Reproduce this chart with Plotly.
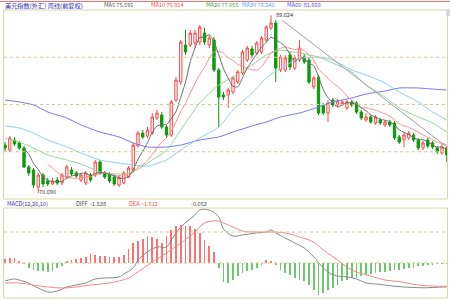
import plotly.graph_objects as go
import pandas as pd

# ---------------- data (weekly candles) ----------------
opens = [75.80, 75.27, 76.34, 76.02, 75.48, 73.46, 73.14, 71.33, 72.60, 71.97,
         71.65, 72.07, 71.75, 72.39, 73.14, 72.82, 72.07, 71.75, 72.60, 72.60,
         73.99, 72.82, 72.71, 72.39, 71.54, 71.75, 72.39, 73.14, 75.70, 77.08,
         76.76, 77.08, 78.68, 79.00, 77.72, 76.87, 80.60, 82.52, 86.46, 86.46,
         86.68, 86.78, 87.74, 86.46, 87.00, 83.80, 81.13, 81.13, 81.45, 82.52,
         83.48, 84.86, 86.04, 85.61, 85.72, 87.00, 88.28, 88.81, 83.80, 83.80,
         85.40, 84.01, 84.86, 85.18, 84.86, 81.99, 83.05, 80.07, 79.21, 80.60,
         80.07, 80.17, 79.75, 80.39, 80.28, 79.32, 78.47, 78.79, 78.15, 78.47,
         77.94, 78.26, 78.15, 76.66, 76.34, 76.55, 76.87, 76.34, 75.48, 76.34,
         76.02, 75.48, 74.95, 75.48]
highs = [76.12, 76.76, 76.66, 76.23, 75.70, 73.67, 73.35, 72.82, 72.82, 72.29,
         72.29, 72.39, 72.82, 73.67, 73.46, 73.03, 72.82, 73.03, 72.82, 74.20,
         74.20, 73.03, 72.92, 72.60, 72.60, 73.03, 73.56, 76.02, 77.30, 77.40,
         77.72, 79.21, 79.53, 79.32, 77.94, 80.60, 83.05, 87.00, 88.06, 88.06,
         88.06, 88.60, 88.28, 87.53, 87.32, 84.01, 81.45, 81.88, 83.16, 83.80,
         85.93, 86.36, 86.36, 86.89, 87.42, 88.60, 89.624, 89.13, 85.40, 85.40,
         85.72, 85.40, 87.00, 85.50, 85.08, 83.16, 83.27, 80.28, 80.60, 80.81,
         80.71, 80.60, 80.60, 80.60, 80.49, 79.53, 79.21, 79.00, 79.00, 78.68,
         78.47, 78.47, 78.36, 76.87, 77.08, 77.30, 77.08, 76.55, 76.23, 76.55,
         76.23, 75.70, 75.91, 75.70]
lows = [75.16, 75.06, 75.70, 75.27, 73.35, 72.50, 71.22, 70.69, 71.33, 71.43,
        71.54, 71.54, 71.54, 72.18, 72.50, 72.29, 71.86, 71.54, 71.86, 72.39,
        72.60, 72.18, 71.75, 71.43, 71.33, 71.65, 72.29, 72.92, 75.59, 76.44,
        76.55, 76.87, 78.47, 77.51, 76.55, 76.66, 80.39, 82.20, 85.40, 86.25,
        86.25, 86.46, 86.46, 86.14, 83.59, 77.72, 80.60, 79.75, 81.24, 82.31,
        83.27, 84.65, 85.08, 85.40, 85.50, 86.78, 88.06, 82.52, 83.59, 83.59,
        83.80, 83.80, 84.65, 84.44, 82.31, 81.77, 79.00, 79.00, 78.26, 79.85,
        79.85, 79.96, 79.53, 79.85, 79.11, 78.47, 78.26, 78.04, 77.94, 77.94,
        77.72, 77.72, 76.34, 75.91, 75.59, 76.34, 76.12, 75.27, 75.27, 75.48,
        75.38, 74.84, 74.74, 73.99]
closes = [75.48, 76.55, 75.91, 75.48, 73.46, 72.82, 71.54, 72.60, 71.65, 71.65,
          71.97, 71.75, 72.60, 73.46, 72.71, 72.50, 72.60, 72.82, 72.07, 73.99,
          72.82, 72.39, 71.97, 71.65, 72.39, 72.82, 73.35, 75.80, 77.08, 76.66,
          77.40, 78.79, 79.21, 77.72, 76.87, 80.39, 82.73, 86.78, 85.72, 87.74,
          87.74, 88.38, 86.78, 87.21, 83.80, 80.92, 80.92, 81.67, 82.95, 83.59,
          85.72, 86.14, 85.40, 86.68, 87.21, 88.38, 88.81, 84.01, 85.18, 85.08,
          84.12, 85.08, 86.14, 84.65, 82.52, 82.95, 79.21, 79.21, 80.28, 80.07,
          80.49, 80.39, 80.39, 80.07, 79.32, 78.68, 78.79, 78.26, 78.79, 78.15,
          78.26, 77.94, 76.55, 76.12, 76.87, 77.08, 76.34, 75.48, 76.02, 75.70,
          75.59, 75.06, 75.59, 74.74]

# longer moving averages at sample bars
ma_bars = [0, 3, 6, 9, 13, 16, 20, 24, 27, 30, 34, 37, 41, 45, 48, 52, 55, 58,
           62, 66, 69, 73, 76, 80, 83, 87, 90, 93]
ma20_vals = [76.55, 76.12, 75.48, 74.74, 74.20, 73.78, 72.92, 72.71, 72.92, 73.88,
             75.27, 77.40, 80.28, 82.20, 83.05, 84.33, 85.40, 85.90, 85.61, 85.18,
             84.54, 83.59, 82.20, 80.92, 79.75, 78.79, 78.15, 77.19]
ma30_vals = [77.83, 77.62, 77.08, 76.34, 75.59, 74.95, 74.20, 73.88, 73.67, 73.56,
             74.20, 75.27, 76.55, 77.72, 79.53, 81.35, 82.95, 84.01, 84.97, 85.18,
             84.86, 83.80, 83.27, 82.41, 81.45, 80.39, 79.32, 78.47]
ma60_vals = [80.60, 80.39, 80.07, 79.32, 78.68, 77.94, 77.19, 76.66, 76.02, 75.59,
             75.59, 75.80, 76.34, 76.66, 77.19, 77.83, 78.25, 78.79, 79.21, 79.85,
             80.39, 80.81, 81.24, 81.56, 81.88, 81.88, 81.77, 81.67]

# MACD(12,26,10)
diff_bars = [0, 2, 3, 5, 6, 7, 9, 11, 13, 15, 17, 19, 21, 24, 25, 27, 28, 30, 32,
             34, 35, 37, 40, 41, 43, 45, 46, 48, 50, 53, 55, 56, 57, 59, 61, 63,
             65, 67, 69, 72, 74, 76, 78, 80, 82, 84, 86, 88, 90, 93]
diff_vals = [-1.16, -1.03, -1.10, -1.29, -1.48, -1.61, -1.87, -1.81, -1.55, -1.42,
             -1.29, -1.03, -0.97, -0.90, -0.71, -0.32, 0.19, 0.71, 1.03, 1.03,
             1.48, 2.32, 3.10, 3.42, 3.42, 2.97, 2.19, 1.74, 1.81, 1.94,
             2.00, 2.13, 1.94, 1.61, 1.29, 0.97, 0.39, -0.32, -0.77, -0.90,
             -1.03, -1.29, -1.35, -1.42, -1.50, -1.55, -1.58, -1.60, -1.58, -1.538]
dea_bars = [0, 3, 6, 9, 12, 15, 18, 22, 26, 28, 31, 34, 37, 40, 42, 45, 46, 48,
            50, 53, 56, 59, 62, 65, 67, 70, 72, 74, 77, 80, 83, 86, 88, 90, 93]
dea_vals = [-1.29, -1.29, -1.42, -1.55, -1.61, -1.55, -1.42, -1.29, -0.97, -0.58,
            0.06, 0.65, 1.29, 2.00, 2.58, 2.71, 2.58, 2.32, 2.06, 2.00,
            2.00, 1.94, 1.68, 1.35, 0.84, 0.19, -0.26, -0.58, -0.84, -1.10,
            -1.20, -1.38, -1.45, -1.49, -1.512]
macd_hist = [0.28, 0.35, 0.30, 0.10, -0.05, -0.30, -0.45, -0.50, -0.50, -0.55,
             -0.50, -0.35, -0.20, 0.08, 0.19, 0.24, 0.30, 0.37, 0.58, 0.52,
             0.45, 0.45, 0.37, 0.37, 0.40, 0.52, 0.88, 1.31, 1.44, 1.53,
             1.74, 1.70, 1.53, 1.27, 1.74, 2.13, 2.39, 2.45, 2.39, 2.39,
             2.17, 1.92, 1.48, 1.10, 0.73, -0.30, -1.20, -1.31, -1.08, -0.86,
             -0.65, -0.54, -0.43, -0.32, -0.11, 0.22, 0.11, -0.11, -0.43, -0.65,
             -0.75, -0.97, -1.08, -1.18, -1.40, -1.72, -2.04, -1.94, -1.72, -1.61,
             -1.40, -1.18, -1.08, -0.97, -0.97, -0.86, -0.75, -0.69, -0.65, -0.60,
             -0.60, -0.54, -0.43, -0.47, -0.39, -0.32, -0.32, -0.22, -0.17, -0.11,
             -0.08, -0.06, -0.05, -0.053]

trend_bars = [58.3, 93.3]
trend_vals = [89.13, 75.48]

title_text = "美元指数(外汇) 周线(前复权)"
ma_labels = [("MA5 75.591", "#555555", 102), ("MA10 75.914", "#ff4a4a", 149),
             ("MA20 77.055", "#3aa63a", 204), ("MA30 78.240", "#4aa8f0", 240),
             ("MA60  81.666", "#5050e0", 285)]
macd_labels = [("MACD(12,26,10)", "#3030c0", 5), ("DIFF  -1.538", "#444444", 74),
               ("DEA  -1.512", "#ff4a4a", 127), ("-0.053", "#444444", 189)]

# ---------------- figure ----------------
W, H = 450, 300


def fx(x):
    return x / W


def fy(y):
    return 1 - y / H


bars = list(range(len(closes)))
cs = pd.Series(closes)
ma5 = cs.rolling(5).mean()
ma10 = cs.rolling(10).mean()

fig = go.Figure()
fig.add_trace(go.Candlestick(
    x=bars, open=opens, high=highs, low=lows, close=closes,
    increasing=dict(line=dict(color="#ff4646", width=1), fillcolor="#ffffff"),
    decreasing=dict(line=dict(color="#0a9a0a", width=1), fillcolor="#0a9a0a"),
    whiskerwidth=0, hoverinfo="skip", xaxis="x", yaxis="y"))

for xs, ys, col in [(ma_bars, ma60_vals, "#7676ee"), (ma_bars, ma30_vals, "#92ccf6"),
                    (ma_bars, ma20_vals, "#96d496"), (bars, list(ma10), "#f49090"),
                    (bars, list(ma5), "#6a6a6a")]:
    fig.add_trace(go.Scatter(x=xs, y=ys, mode="lines",
                             line=dict(color=col, width=1, shape="spline", smoothing=0.6),
                             hoverinfo="skip", xaxis="x", yaxis="y"))

fig.add_trace(go.Scatter(x=trend_bars, y=trend_vals, mode="lines",
                         line=dict(color="#a0a0a0", width=1), hoverinfo="skip",
                         xaxis="x", yaxis="y"))

fig.add_trace(go.Bar(x=bars, y=macd_hist, width=0.18,
                     marker=dict(color=["#ff7070" if v > 0 else "#6cc86c" for v in macd_hist],
                                 line=dict(width=0)),
                     hoverinfo="skip", xaxis="x2", yaxis="y2"))
fig.add_trace(go.Scatter(x=diff_bars, y=diff_vals, mode="lines",
                         line=dict(color="#8a8a8a", width=1, shape="spline"),
                         hoverinfo="skip", xaxis="x2", yaxis="y2"))
fig.add_trace(go.Scatter(x=dea_bars, y=dea_vals, mode="lines",
                         line=dict(color="#f48888", width=1, shape="spline"),
                         hoverinfo="skip", xaxis="x2", yaxis="y2"))

xr = [-0.421, 93.26]
fig.update_layout(
    width=W, height=H, margin=dict(l=0, r=0, t=0, b=0),
    paper_bgcolor="white", plot_bgcolor="white", showlegend=False,
    xaxis=dict(domain=[fx(3), fx(448)], range=xr, visible=False,
               rangeslider=dict(visible=False), fixedrange=True),
    yaxis=dict(domain=[fy(199), fy(10)], range=[70.046, 90.195], visible=False),
    xaxis2=dict(domain=[fx(3), fx(448)], range=xr, visible=False, anchor="y2"),
    yaxis2=dict(domain=[fy(298), fy(208)], range=[-2.258, 3.548], visible=False,
                anchor="x2"),
    bargap=0,
)

shapes = []
frame = "#ddd6a6"
dot = "#d6c98a"
shapes.append(dict(type="line", xref="paper", yref="paper", x0=0, x1=1,
                   y0=fy(1.5), y1=fy(1.5), line=dict(color="#f07070", width=1)))
for y0, y1 in [(10, 199), (208, 298)]:
    shapes.append(dict(type="rect", xref="paper", yref="paper", x0=fx(3.5), x1=fx(447.5),
                       y0=fy(y1), y1=fy(y0), line=dict(color=frame, width=1)))
for gy in [57.25, 104.5, 151.75, 232, 263]:
    shapes.append(dict(type="line", xref="paper", yref="paper", x0=fx(4), x1=fx(447),
                       y0=fy(gy), y1=fy(gy), line=dict(color=dot, width=1, dash="dot")))
shapes.append(dict(type="rect", xref="paper", yref="paper", x0=fx(446), x1=fx(450),
                   y0=fy(16), y1=fy(9), line=dict(width=0), fillcolor="#d8d8e0"))
fig.update_layout(shapes=shapes)

fnt = "Noto Sans CJK SC, DejaVu Sans, sans-serif"
ann = [dict(text=title_text, x=fx(3), y=fy(5), font=dict(color="#3030c0", size=6.2))]
for t, c, x in ma_labels:
    ann.append(dict(text=t, x=fx(x), y=fy(5), font=dict(color=c, size=5.6)))
for t, c, x in macd_labels:
    ann.append(dict(text=t, x=fx(x), y=fy(203.5), font=dict(color=c, size=5.6)))
ann.append(dict(text="89.624", x=fx(274), y=fy(15), font=dict(color="#333333", size=5.6)))
ann.append(dict(text="70.690", x=fx(37), y=fy(192), font=dict(color="#333333", size=5.6)))
for a in ann:
    a.update(xref="paper", yref="paper", showarrow=False, xanchor="left",
             yanchor="middle")
    a["font"]["family"] = fnt
fig.update_layout(annotations=ann)

fig.write_html("out.html")
